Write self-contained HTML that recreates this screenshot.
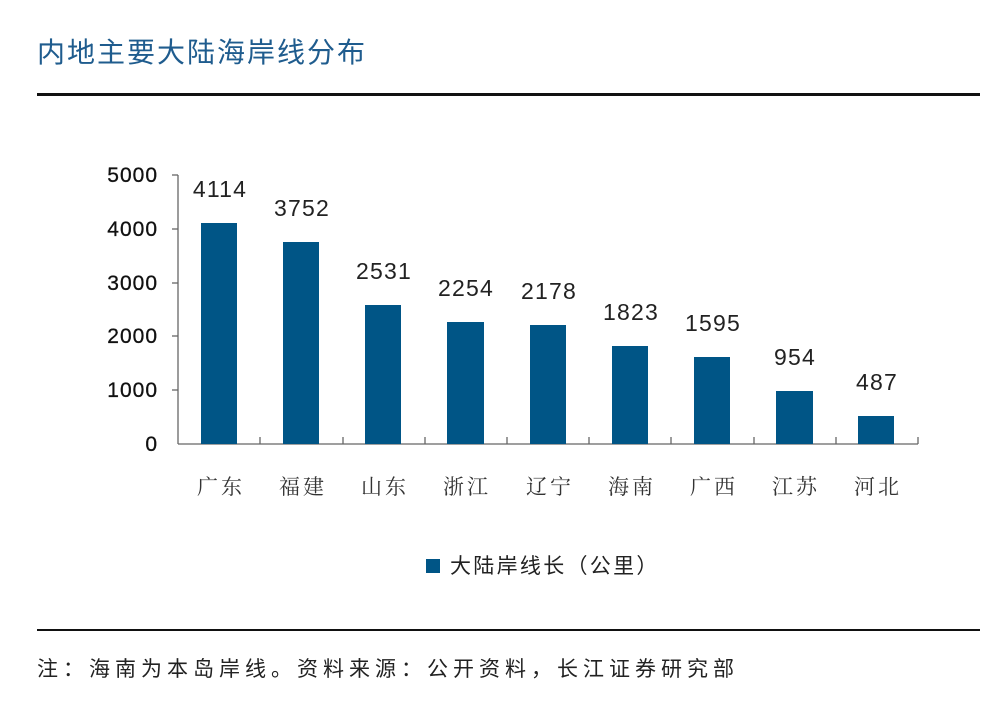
<!DOCTYPE html>
<html><head><meta charset="utf-8"><style>
body{margin:0;background:#fff;width:1000px;height:719px;overflow:hidden;position:relative;font-family:"Liberation Sans","Noto Sans CJK SC",sans-serif}
.t{position:absolute;left:37px;top:31px;font-size:28px;letter-spacing:2px;color:#1f5c8e}
.l1{position:absolute;left:37px;top:93px;width:943px;height:3px;background:#111}
.l2{position:absolute;left:37px;top:629px;width:943px;height:2px;background:#111}
.f{position:absolute;left:37px;top:653px;font-size:21px;letter-spacing:5px;color:#222;white-space:nowrap}
</style></head><body>
<div class="t">内地主要大陆海岸线分布</div>
<div class="l1"></div>
<svg width="1000" height="719" style="position:absolute;left:0;top:0">
<g stroke="#666" stroke-width="1.3" fill="none">
<line x1="178" y1="175" x2="178" y2="444"/>
<line x1="178" y1="444" x2="918" y2="444"/>
<line x1="172" y1="175" x2="178" y2="175"/>
<line x1="172" y1="229" x2="178" y2="229"/>
<line x1="172" y1="283" x2="178" y2="283"/>
<line x1="172" y1="336" x2="178" y2="336"/>
<line x1="172" y1="390" x2="178" y2="390"/>
<line x1="260" y1="437" x2="260" y2="444"/><line x1="343" y1="437" x2="343" y2="444"/>
<line x1="425" y1="437" x2="425" y2="444"/><line x1="507" y1="437" x2="507" y2="444"/>
<line x1="589" y1="437" x2="589" y2="444"/><line x1="671" y1="437" x2="671" y2="444"/>
<line x1="754" y1="437" x2="754" y2="444"/><line x1="836" y1="437" x2="836" y2="444"/>
<line x1="918" y1="437" x2="918" y2="444"/>
</g>
<g font-size="21" fill="#111" text-anchor="end" font-family="Liberation Sans,sans-serif" stroke="#111" stroke-width="0.3" letter-spacing="1">
<text x="158" y="182">5000</text><text x="158" y="236">4000</text><text x="158" y="290">3000</text>
<text x="158" y="343">2000</text><text x="158" y="397">1000</text><text x="158" y="451">0</text>
</g>
<g fill="#005586">
<rect x="201" y="223" width="36" height="221"/>
<rect x="283" y="242" width="36" height="202"/>
<rect x="365" y="305" width="36" height="139"/>
<rect x="447" y="322" width="37" height="122"/>
<rect x="530" y="325" width="36" height="119"/>
<rect x="612" y="346" width="36" height="98"/>
<rect x="694" y="357" width="36" height="87"/>
<rect x="776" y="391" width="37" height="53"/>
<rect x="858" y="416" width="36" height="28"/>
</g>
<g font-size="23" fill="#222" text-anchor="middle" font-family="Liberation Sans,sans-serif" letter-spacing="1.2">
<text x="220" y="197">4114</text><text x="302" y="216">3752</text><text x="384" y="279">2531</text>
<text x="466" y="296">2254</text><text x="549" y="299">2178</text><text x="631" y="320">1823</text>
<text x="713" y="331">1595</text><text x="795" y="365">954</text><text x="877" y="390">487</text>
</g>
<g font-size="21" fill="#333" text-anchor="middle" font-family="Noto Serif CJK SC,serif" letter-spacing="3">
<text x="221" y="494">广东</text><text x="303" y="494">福建</text><text x="385" y="494">山东</text>
<text x="467" y="494">浙江</text><text x="550" y="494">辽宁</text><text x="632" y="494">海南</text>
<text x="714" y="494">广西</text><text x="796" y="494">江苏</text><text x="878" y="494">河北</text>
</g>
<rect x="426" y="559" width="14" height="14" fill="#005586"/>
<text x="450" y="573" font-size="21" fill="#222" letter-spacing="2.3" font-family="Liberation Sans,Noto Sans CJK SC,sans-serif">大陆岸线长（公里）</text>
</svg>
<div class="l2"></div>
<div class="f">注：海南为本岛岸线。资料来源：公开资料，长江证券研究部</div>
</body></html>
